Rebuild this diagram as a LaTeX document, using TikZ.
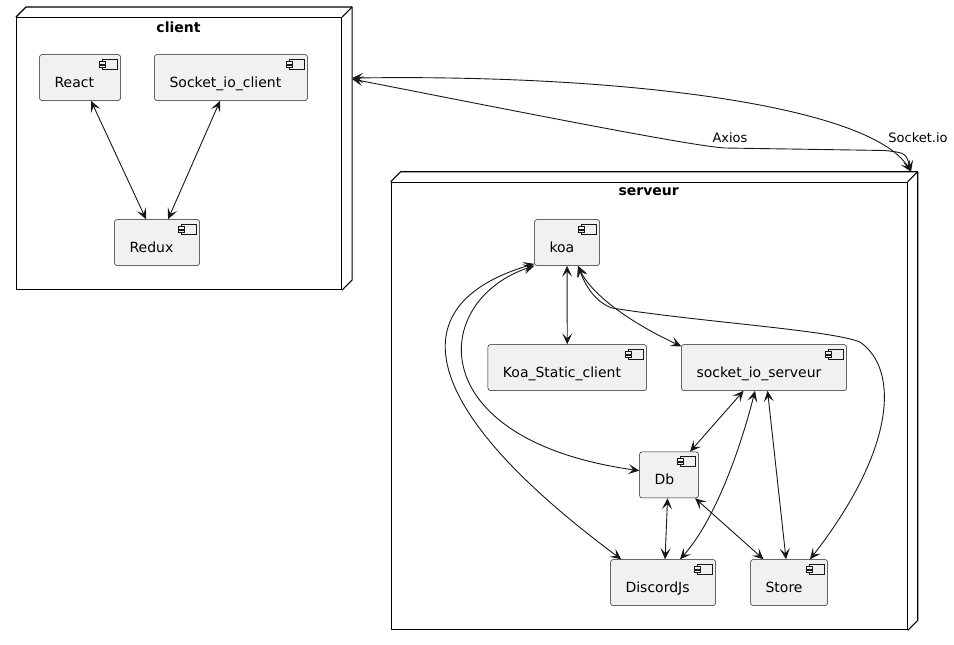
\documentclass[tikz,border=0pt]{standalone}
\usepackage{fontspec}
\setmainfont{DejaVu Sans}
\usetikzlibrary{arrows.meta}
\definecolor{compfill}{HTML}{F1F1F1}
\definecolor{compline}{HTML}{181818}
\tikzset{
  comp/.style={draw=compline, line width=0.5pt, fill=compfill, rounded corners=2.5pt,
    anchor=north west, inner xsep=15pt, inner ysep=0pt, minimum height=46pt,
    text height=19pt, text depth=0pt, align=left},
  icon/.style={draw=compline, line width=0.5pt, fill=compfill},
  nodebox/.style={draw=black, line width=1.1pt, fill=white, inner sep=0pt, anchor=north west},
  face/.style={draw=black, line width=1.1pt, line join=bevel},
  link/.style={draw=compline, line width=0.9pt, {Stealth[length=11pt,width=10pt,inset=5pt]}-{Stealth[length=11pt,width=10pt,inset=5pt]}},
  title/.style={font=\fontsize{14pt}{16pt}\selectfont\bfseries},
  lbl/.style={font=\fontsize{13pt}{15pt}\selectfont, inner sep=0pt}
}
\begin{document}
\begin{tikzpicture}[x=1pt, y=-1pt, font=\fontsize{14pt}{16pt}\selectfont]
  \useasboundingbox (0,0) rectangle (954,645);
  % containers
  \node[nodebox, minimum width=325pt, minimum height=272pt] (client) at (16,17) {};
  \node[nodebox, minimum width=516pt, minimum height=447.6pt] (serveur) at (390.6,181.7) {};
  \foreach \c in {client,serveur}{
    \draw[face] (\c.north west) -- ++(10pt,10pt) -- ([shift={(10pt,10pt)}]\c.north east)
      -- ([shift={(10pt,10pt)}]\c.south east) -- (\c.south east);
    \draw[face] (\c.north east) -- ++(10pt,10pt);
  }
  \node[title] (client-title) at (178.5,27) {client};
  \node[title] (serveur-title) at (648.7,192) {serveur};
  % components
  \node[comp, text width=51pt] (react) at (39.3,54.3) {React};
  \node[comp, text width=123pt] (sockcl) at (154.3,54.3) {Socket\_io\_client};
  \node[comp, text width=55pt] (redux) at (114.3,219.3) {Redux};
  \node[comp, text width=35pt] (koa) at (534.3,219.3) {koa};
  \node[comp, text width=128.6pt] (kstatic) at (487.7,344.3) {Koa\_Static\_client};
  \node[comp, text width=135pt] (sioserv) at (681.3,344.3) {socket\_io\_serveur};
  \node[comp, text width=29pt] (db) at (639.3,451.7) {Db};
  \node[comp, text width=75pt] (discord) at (610.3,559.3) {DiscordJs};
  \node[comp, text width=47pt] (store) at (750.3,559.3) {Store};
  \foreach \n in {react,sockcl,redux,koa,kstatic,sioserv,db,discord,store}{
    \begin{scope}[shift={(\n.north east)}]
      \draw[icon] (-19,5) rectangle (-4,15);
      \draw[icon] (-22,7) rectangle (-16,9.5);
      \draw[icon] (-22,10.5) rectangle (-16,13);
    \end{scope}
  }
  % client links
  \draw[link] ([xshift=11pt]react.south) -- ([xshift=-11pt]redux.north);
  \draw[link] ([xshift=-11pt]sockcl.south) -- ([xshift=11pt]redux.north);
  % client <-> serveur
  \draw[link] ([xshift=10pt,yshift=75.5pt]client.east) .. controls (620,74) and (870,105)
    .. ([xshift=3.3pt,yshift=10pt]serveur.north east);
  \draw[link] ([xshift=10pt,yshift=74.5pt]client.east) .. controls (500,108) and (690,146) .. (725,148)
    -- (885,150.5) .. controls (906,153) .. ([xshift=3.3pt,yshift=10pt]serveur.north east);
  \node[lbl] (axios) at (730,138) {Axios};
  \node[lbl] (socketio) at (918,138) {Socket.io};
  % serveur links
  \draw[link] (koa.south) -- (kstatic.north);
  \draw[link] ([xshift=11pt]koa.south) .. controls (590,292) and (625,320) .. ([yshift=-2pt]sioserv.north west);
  \draw[link] ([xshift=11pt]koa.south) .. controls (585,285) and (595,302) .. (612,308)
    .. controls (700,322) and (830,330) .. (860,342) .. controls (900,370) and (895,450) .. ([xshift=21pt]store.north);
  \draw[link] (koa.south west) .. controls (430,300) and (420,440) .. ([yshift=4.3pt]db.west);
  \draw[link] ([yshift=2pt]koa.south west) .. controls (395,305) and (420,410) .. ([xshift=11pt]discord.north west);
  \draw[link] ([xshift=-20.5pt]sioserv.south) -- ([xshift=21pt]db.north);
  \draw[link] ([xshift=-9pt]sioserv.south) .. controls (740,450) and (715,520) .. ([xshift=17pt]discord.north);
  \draw[link] ([xshift=3.5pt]sioserv.south) -- ([xshift=-3pt]store.north);
  \draw[link] ([xshift=-1.5pt]db.south) -- ([xshift=2pt]discord.north);
  \draw[link] ([xshift=26pt]db.south) -- ([xshift=-25.5pt]store.north);
\end{tikzpicture}
\end{document}
